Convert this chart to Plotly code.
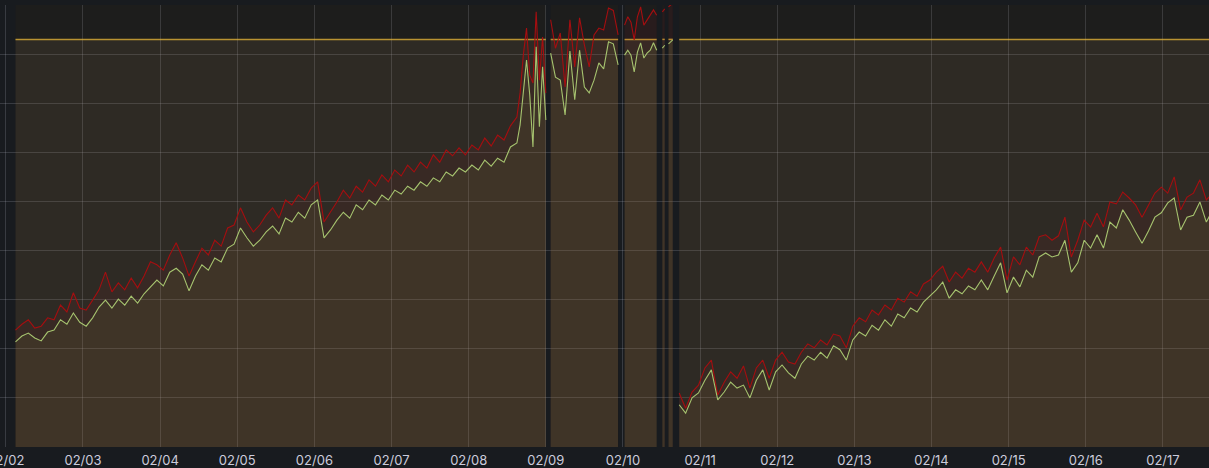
import pandas as pd
import plotly.graph_objects as go

# level of the flat yellow line, and a cap above the visible range
LIMIT = 83
CAP = 100

# first run, every 2h from 02/02 03:00
green_a1 = [21.4, 22.6, 23.2, 22.2, 21.6, 23.4, 23.8, 25.9, 25.0, 27.3,
            25.4, 24.6, 26.3, 28.5, 29.9, 28.3, 30.1, 28.9, 30.7, 29.3,
            31.2, 32.6, 34.0, 32.8, 35.6, 36.4, 35.2, 31.8, 34.8, 37.1,
            36.0, 38.5, 37.7, 40.5, 41.3, 44.6, 42.6, 40.9, 42.1, 43.8,
            45.0, 43.4, 46.6, 45.8, 47.8, 46.6, 49.3, 50.3, 42.6, 44.2,
            46.2, 47.8, 46.6, 49.3, 48.3, 50.3, 49.3, 51.3, 50.3, 52.3,
            51.5, 53.1, 52.3, 54.0, 53.1, 54.8, 54.0, 56.0, 55.2, 56.8,
            56.0, 57.4, 56.4, 58.4, 57.2, 58.8, 58.0, 61.1, 61.9]
red_a1 = [23.8, 25.0, 25.9, 24.2, 24.6, 26.3, 25.9, 28.9, 27.5, 31.4,
          28.3, 27.9, 29.9, 32.0, 35.6, 31.6, 33.4, 32.0, 34.4, 32.4,
          34.8, 37.7, 37.1, 36.0, 39.1, 41.6, 38.5, 34.8, 37.7, 40.5,
          39.1, 42.1, 40.9, 44.6, 45.2, 48.7, 45.8, 43.8, 45.2, 47.2,
          48.7, 46.6, 50.3, 49.3, 51.3, 50.3, 52.7, 54.0, 45.8, 47.8,
          49.9, 52.3, 50.7, 53.1, 51.9, 54.4, 53.1, 55.4, 54.0, 56.4,
          55.2, 57.4, 56.0, 58.0, 56.8, 59.5, 58.0, 60.5, 59.3, 60.9,
          59.5, 61.5, 60.5, 62.9, 61.3, 63.5, 62.5, 65.4, 67.2]

# the jump on 02/08 evening, hourly
green_a2 = [65.6, 72.7, 78.8, 71.7, 61.1, 81.5, 65.2, 77.4, 66.6]
red_a2 = [72.1, 79.8, 85.3, 75.7, 74.1, 88.6, 74.7, 83.5, 72.1]

# 02/09
green_b = [80.2, 75.3, 74.7, 67.6, 80.6, 70.7, 80.8, 73.3, 72.1, 74.7, 78.2, 77.0, 82.5, 82.1, 77.8]
red_b = [87.0, 81.2, 84.3, 73.3, 87.0, 77.4, 87.4, 81.9, 77.4, 83.9, 85.3, 84.9, 89.4, 88.9, 83.9]

# 02/10 morning, then two short bits
green_c = [79.8, 80.8, 79.8, 76.4, 80.4, 82.3, 79.2, 80.2, 80.8, 82.3, 80.8]
red_c = [85.9, 87.6, 86.5, 82.9, 87.6, 89.6, 85.9, 86.9, 87.9, 89.0, 87.9]
green_d = [81.2, 81.8]
red_d = [88.6, 89.2]
green_e = [82.1, 82.9]
red_e = [89.6, 90.4]

# from 02/10 evening to the end, every 2h
green_f = [8.6, 6.9, 10.0, 11.0, 13.6, 15.7, 9.6, 11.2, 13.2, 12.0,
           12.6, 10.0, 13.6, 15.7, 11.6, 15.3, 16.7, 15.1, 14.0, 16.9,
           18.5, 17.7, 19.3, 18.1, 20.6, 19.8, 17.7, 21.8, 23.4, 22.6,
           24.8, 23.8, 25.9, 24.6, 27.1, 26.3, 28.3, 27.5, 29.5, 30.7,
           32.0, 33.6, 30.3, 32.0, 31.2, 32.8, 32.0, 34.0, 32.0, 34.8,
           37.5, 31.4, 34.6, 32.6, 36.0, 34.6, 38.7, 39.5, 38.7, 39.1,
           42.1, 35.6, 37.5, 42.1, 40.5, 43.2, 40.5, 45.8, 44.6, 48.3,
           46.2, 43.8, 41.5, 44.0, 46.8, 47.7, 49.7, 50.7, 44.2, 46.8,
           47.2, 49.9, 45.8, 48.3]
red_f = [11.0, 7.9, 11.2, 12.6, 16.1, 17.7, 10.6, 13.2, 15.3, 14.0,
         16.5, 12.0, 16.1, 17.7, 14.0, 17.7, 19.3, 17.3, 16.9, 19.3,
         21.0, 20.2, 21.8, 20.8, 23.0, 22.6, 20.2, 24.6, 26.3, 25.5,
         27.9, 26.9, 28.9, 27.9, 30.3, 29.5, 31.6, 30.7, 33.2, 34.0,
         35.6, 36.8, 33.6, 35.6, 34.4, 36.4, 35.6, 37.7, 35.6, 38.5,
         40.7, 34.0, 38.7, 37.1, 40.7, 39.1, 42.8, 43.2, 42.1, 43.0,
         46.8, 38.7, 42.1, 46.2, 44.8, 47.6, 44.8, 49.9, 49.5, 51.9,
         50.7, 49.3, 46.8, 49.3, 51.7, 52.9, 51.7, 55.0, 48.3, 50.9,
         51.7, 54.4, 50.3, 51.7]


def run_times(start, freq, n):
    return list(pd.date_range(start, periods=n, freq=freq))


# each run is drawn on its own so that lines and fills stop at the gaps
runs = [
    (run_times("2023-02-02 03:00", "2h", len(green_a1)) + run_times("2023-02-08 16:00", "1h", len(green_a2)),
     green_a1 + green_a2, red_a1 + red_a2),
    (run_times("2023-02-09 01:30", "90min", len(green_b)), green_b, red_b),
    (run_times("2023-02-10 00:30", "1h", len(green_c)), green_c, red_c),
    (run_times("2023-02-10 12:15", "45min", len(green_d)), green_d, red_d),
    (run_times("2023-02-10 14:10", "80min", len(green_e)), green_e, red_e),
    (run_times("2023-02-10 17:30", "2h", len(green_f)), green_f, red_f),
]

fig = go.Figure()

for times, g, r in runs:
    fig.add_trace(go.Scatter(x=times, y=[CAP] * len(times), mode="lines", line=dict(width=0),
                             fill="tozeroy", fillcolor="rgba(74,47,11,0.1)", hoverinfo="skip"))
for times, g, r in runs:
    fig.add_trace(go.Scatter(x=times, y=[LIMIT] * len(times), mode="lines",
                             line=dict(color="rgba(234,184,57,0.75)", width=1.5),
                             fill="tozeroy", fillcolor="rgba(250,200,140,0.08)", hoverinfo="skip"))
for times, g, r in runs:
    fig.add_trace(go.Scatter(x=times, y=r, mode="lines", line=dict(color="#a50e10", width=1.1),
                             fill="tozeroy", fillcolor="rgba(196,22,42,0.07)"))
for times, g, r in runs:
    fig.add_trace(go.Scatter(x=times, y=g, mode="lines", line=dict(color="#a6c36f", width=1.1),
                             fill="tozeroy", fillcolor="rgba(150,195,80,0.07)"))

grid = "rgba(204,204,220,0.18)"

fig.update_layout(width=1209, height=468, margin=dict(l=0, r=0, t=5, b=21, autoexpand=False),
                  paper_bgcolor="#181b1f", plot_bgcolor="#181b1f", showlegend=False,
                  font=dict(family="Inter", size=13, color="#ccccdc"))
fig.update_xaxes(type="date", range=["2023-02-01 22:11", "2023-02-17 14:20"],
                 tick0="2023-02-02", dtick=86400000, tickformat="%m/%d", automargin=False,
                 showgrid=True, gridcolor=grid, zeroline=False, showline=False, ticks="",
                 ticklabelstandoff=4, ticklabeloverflow="allow")
fig.update_yaxes(range=[0, 90], dtick=10, showticklabels=False, automargin=False,
                 showgrid=True, gridcolor=grid, zeroline=False, showline=False)

# page body margin would push the chart off the window
fig.write_html("out.html", config={"displayModeBar": False},
               post_script="document.body.style.margin='0';")
